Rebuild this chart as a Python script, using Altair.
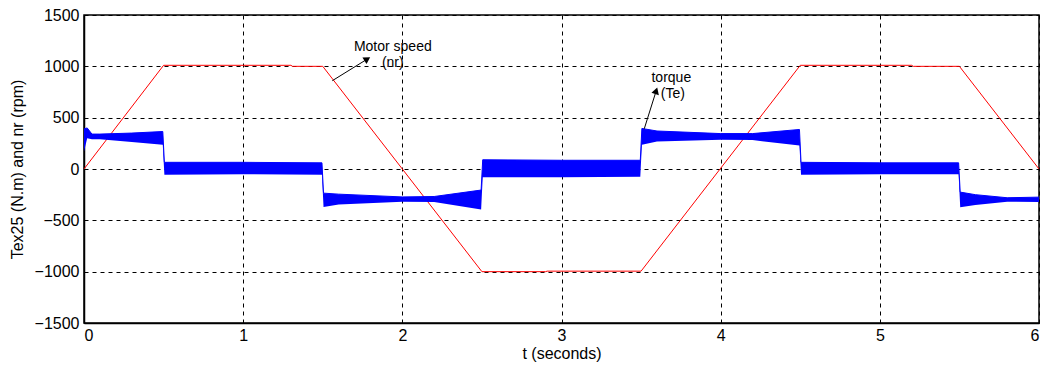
import altair as alt
import pandas as pd

# Motor speed nr (rpm) - trapezoidal profile
speed_t = [0, 0.5, 1.3, 1.31, 1.5, 2.5, 2.9, 2.91, 3.5, 4.5, 5.2, 5.21, 5.5, 6.0]
speed_v = [0, 1010, 1010, 1000, 1000, -1000, -1000, -995, -995, 1010, 1010, 1000, 1000, 0]

# Torque Te envelope (N.m) - oscillating band
torque_t = [0, 0.02, 0.05, 0.1, 0.3, 0.495,
            0.505, 1.0, 1.495,
            1.505, 1.6, 2.0, 2.2, 2.495,
            2.505, 3.0, 3.495,
            3.505, 3.6, 4.0, 4.2, 4.495,
            4.505, 5.0, 5.495,
            5.505, 5.6, 5.8, 6.0]
torque_hi = [390, 400, 340, 340, 350, 365,
             65, 65, 60,
             -235, -245, -272, -268, -205,
             90, 85, 85,
             395, 370, 345, 345, 385,
             65, 60, 60,
             -225, -250, -280, -274]
torque_lo = [170, 300, 290, 290, 262, 235,
             -55, -50, -55,
             -370, -345, -318, -322, -395,
             -80, -80, -75,
             236, 268, 286, 282, 228,
             -55, -50, -50,
             -372, -350, -318, -322]

# Annotations
label_text = ["Motor speed", "(nr)", "torque", "(Te)"]
label_t = [1.94, 1.94, 3.69, 3.70]
label_v = [1185, 1032, 889, 727]
arrow_t0 = [1.56, 3.52]
arrow_v0 = [860, 392]
arrow_t1 = [1.78, 3.595]
arrow_v1 = [1071, 762]
arrow_angle = [58, 18]

speed_df = pd.DataFrame({"t": speed_t, "v": speed_v})
torque_df = pd.DataFrame({"t": torque_t, "hi": torque_hi, "lo": torque_lo})
label_df = pd.DataFrame({"t": label_t, "v": label_v, "text": label_text})
arrow_df = pd.DataFrame({"t0": arrow_t0, "v0": arrow_v0, "t1": arrow_t1,
                         "v1": arrow_v1, "ang": arrow_angle})

xs = alt.Scale(domain=[0, 6], nice=False)
ys = alt.Scale(domain=[-1500, 1500], nice=False)
common = dict(grid=True, ticks=False,
              labelFont="Liberation Sans", labelFontSize=16, labelColor="black",
              titleFont="Liberation Sans", titleFontSize=16, titleFontWeight="normal",
              titleColor="black", gridColor="black", gridDash=[4, 4], gridOpacity=1,
              gridWidth=1, domainColor="black", domainWidth=1.5, format="d")
xax = alt.Axis(title="t (seconds)", values=[0, 1, 2, 3, 4, 5, 6],
               labelPadding=4, titlePadding=2, **common)
yax = alt.Axis(title="Tex25 (N.m) and nr (rpm)",
               values=[-1500, -1000, -500, 0, 500, 1000, 1500],
               labelPadding=5, titlePadding=9, **common)

torque = alt.Chart(torque_df).mark_area(color="#0000ff", opacity=1,
                                        line={"color": "#0000ff", "strokeWidth": 1}).encode(
    x=alt.X("t:Q", scale=xs, axis=xax),
    y=alt.Y("hi:Q", scale=ys, axis=yax),
    y2="lo:Q",
)

speed = alt.Chart(speed_df).mark_line(color="#ff0000", strokeWidth=1).encode(
    x=alt.X("t:Q", scale=xs),
    y=alt.Y("v:Q", scale=ys),
)

arrows = alt.Chart(arrow_df).mark_rule(color="black", strokeWidth=1).encode(
    x=alt.X("t0:Q", scale=xs), y=alt.Y("v0:Q", scale=ys),
    x2="t1:Q", y2="v1:Q",
)
heads = alt.Chart(arrow_df).mark_point(shape="triangle-up", filled=True, color="black",
                                       size=60, opacity=1).encode(
    x=alt.X("t1:Q", scale=xs), y=alt.Y("v1:Q", scale=ys),
    angle=alt.Angle("ang:Q", scale=None),
)
labels = alt.Chart(label_df).mark_text(font="Liberation Sans", fontSize=14,
                                       color="black", align="center", baseline="middle").encode(
    x=alt.X("t:Q", scale=xs), y=alt.Y("v:Q", scale=ys), text="text:N",
)

chart = alt.layer(speed, torque, arrows, heads, labels).properties(
    width=955, height=308,
    background="white",
    autosize=alt.AutoSizeParams(type="none"),
    padding={"left": 76, "top": 7, "right": 5, "bottom": 41},
).configure_view(
    stroke="black", strokeWidth=1.5,
)

chart.save("out.html", embed_options={"renderer": "svg", "actions": False})
